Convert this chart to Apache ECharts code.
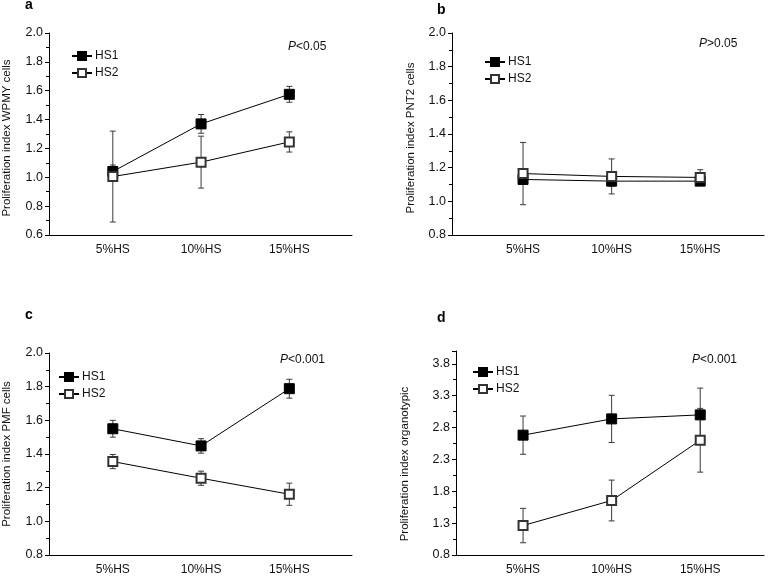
<!DOCTYPE html>
<html><head><meta charset="utf-8">
<script src="https://cdn.jsdelivr.net/npm/echarts@6/dist/echarts.min.js"></script>
<style>html,body{margin:0;padding:0;background:#fff}#c{width:769px;height:576px}</style>
</head><body><div id="c"></div>
<script>
const categories = ['5%HS', '10%HS', '15%HS'];
const seriesNames = ['HS1', 'HS2'];
// panel a: WPMY cells
const aHS1 = [1.04, 1.37, 1.575];
const aHS1sd = [0.045, 0.065, 0.055];
const aHS2 = [1.005, 1.105, 1.245];
const aHS2sd = [0.315, 0.18, 0.07];
// panel b: PNT2 cells
const bHS1 = [1.13, 1.12, 1.12];
const bHS1sd = [0.03, 0.03, 0.02];
const bHS2 = [1.165, 1.148, 1.142];
const bHS2sd = [0.185, 0.104, 0.046];
// panel c: PMF cells
const cHS1 = [1.55, 1.448, 1.788];
const cHS1sd = [0.05, 0.043, 0.056];
const cHS2 = [1.355, 1.256, 1.161];
const cHS2sd = [0.042, 0.042, 0.066];
// panel d: organotypic
const dHS1 = [2.68, 2.935, 2.998];
const dHS1sd = [0.3, 0.37, 0.42];
const dHS2 = [1.262, 1.655, 2.6];
const dHS2sd = [0.27, 0.32, 0.5];

const yNames = ['Proliferation index WPMY cells', 'Proliferation index PNT2 cells', 'Proliferation index PMF cells', 'Proliferation index organotypic'];
const pTexts = ['<0.05', '>0.05', '<0.001', '<0.001'];
const panelLetters = ['a', 'b', 'c', 'd'];
const yTicksA = [0.6, 2.0, 0.2];
const yTicksB = [0.8, 2.0, 0.2];
const yTicksC = [0.8, 2.0, 0.2];
const yTicksD = [0.8, 4.0, 0.5];

const panels = [
  {m1: aHS1, s1: aHS1sd, m2: aHS2, s2: aHS2sd, y: yTicksA},
  {m1: bHS1, s1: bHS1sd, m2: bHS2, s2: bHS2sd, y: yTicksB},
  {m1: cHS1, s1: cHS1sd, m2: cHS2, s2: cHS2sd, y: yTicksC},
  {m1: dHS1, s1: dHS1sd, m2: dHS2, s2: dHS2sd, y: yTicksD}
];

const layout = [
  {grid: {left: 48, top: 33, width: 304, height: 202}, xmin: 0.277, xmax: 3.71, nameGap: 36, namePad: [0, 8, 0, 0],
   legend: {left: 66, top: 45}, p: [288, 48], letter: [25, 5]},
  {grid: {left: 452, top: 33, width: 312, height: 202}, xmin: 0.198, xmax: 3.72, nameGap: 35, namePad: [0, 8, 0, 0],
   legend: {left: 479, top: 51}, p: [699, 45], letter: [437, 10]},
  {grid: {left: 48, top: 353, width: 304, height: 202}, xmin: 0.277, xmax: 3.71, nameGap: 36, namePad: [0, 0, 0, 0],
   legend: {left: 53, top: 366}, p: [280, 361], letter: [25, 315]},
  {grid: {left: 456, top: 351, width: 308, height: 204}, xmin: 0.243, xmax: 3.72, nameGap: 45, namePad: [0, 22, 0, 0],
   legend: {left: 467, top: 361}, p: [692, 361], letter: [437, 318]}
];

const font = 'Liberation Sans, Arial, sans-serif';
const grids = [], xAxes = [], yAxes = [], series = [], legends = [], graphics = [];

function errSeries(i, means, sds, z) {
  const data = means.map((m, k) => [k + 1, m - sds[k], m + sds[k]]);
  return {
    type: 'custom', xAxisIndex: i, yAxisIndex: i, z: z, silent: true,
    data: data,
    renderItem: function (params, api) {
      const x = api.value(0);
      const lo = api.coord([x, api.value(1)]);
      const hi = api.coord([x, api.value(2)]);
      const w = 3;
      const st = {stroke: '#3a3a3a', lineWidth: 1};
      return {type: 'group', children: [
        {type: 'line', shape: {x1: lo[0], y1: lo[1], x2: hi[0], y2: hi[1]}, style: st},
        {type: 'line', shape: {x1: lo[0] - w, y1: lo[1], x2: lo[0] + w, y2: lo[1]}, style: st},
        {type: 'line', shape: {x1: hi[0] - w, y1: hi[1], x2: hi[0] + w, y2: hi[1]}, style: st}
      ]};
    }
  };
}

panels.forEach((p, i) => {
  const L = layout[i];
  grids.push(L.grid);
  xAxes.push({
    type: 'value', gridIndex: i, min: L.xmin, max: L.xmax,
    axisLine: {show: true, lineStyle: {color: '#000', width: 1}},
    axisTick: {show: false}, splitLine: {show: false},
    axisLabel: {customValues: [1, 2, 3], formatter: v => categories[Math.round(v) - 1] || '',
      color: '#111', fontSize: 12, fontFamily: font, margin: 9}
  });
  yAxes.push({
    type: 'value', gridIndex: i, min: p.y[0], max: p.y[1], interval: p.y[2],
    name: yNames[i], nameLocation: 'middle', nameRotate: 90, nameGap: L.nameGap,
    nameTextStyle: {fontSize: 11.5, color: '#111', fontFamily: font, padding: L.namePad},
    axisLine: {show: true, lineStyle: {color: '#000', width: 1}},
    axisTick: {show: true, length: 4, lineStyle: {color: '#000'}},
    minorTick: {show: true, splitNumber: 2, length: 3, lineStyle: {color: '#000'}},
    splitLine: {show: false},
    axisLabel: {showMaxLabel: i === 3 ? false : true, formatter: v => v.toFixed(1),
      color: '#111', fontSize: 12.5, fontFamily: font, margin: 6}
  });
  series.push(errSeries(i, p.m1, p.s1, 2));
  series.push(errSeries(i, p.m2, p.s2, 2));
  series.push({
    type: 'line', name: seriesNames[0], xAxisIndex: i, yAxisIndex: i, z: 3,
    data: p.m1.map((v, k) => [k + 1, v]),
    symbol: 'rect', symbolSize: 10, showSymbol: true,
    lineStyle: {color: '#000', width: 1},
    itemStyle: {color: '#000', borderColor: '#000', borderWidth: 1}
  });
  series.push({
    type: 'line', name: seriesNames[1], xAxisIndex: i, yAxisIndex: i, z: 4,
    data: p.m2.map((v, k) => [k + 1, v]),
    symbol: 'rect', symbolSize: 9, showSymbol: true,
    lineStyle: {color: '#000', width: 1},
    itemStyle: {color: '#fff', borderColor: '#333', borderWidth: 2}
  });
  legends.push({
    orient: 'vertical', left: L.legend.left, top: L.legend.top,
    itemWidth: 20, itemHeight: 10, itemGap: 5, selectedMode: false,
    data: seriesNames,
    textStyle: {fontSize: 12, color: '#111', fontFamily: font, padding: [0, 0, 0, -2]}
  });
  graphics.push({
    type: 'text', left: L.p[0], top: L.p[1] - 7,
    style: {text: '{i|P}' + pTexts[i], font: '12px ' + font, fill: '#111',
      rich: {i: {fontStyle: 'italic', fontSize: 12, fontFamily: font, fill: '#111'}}}
  });
  graphics.push({
    type: 'text', left: L.letter[0], top: L.letter[1] - 7,
    style: {text: panelLetters[i], font: 'bold 14px ' + font, fill: '#000'}
  });
});

const chart = echarts.init(document.getElementById('c'), null, {renderer: 'canvas'});
chart.setOption({
  animation: false,
  backgroundColor: '#fff',
  grid: grids, xAxis: xAxes, yAxis: yAxes, series: series,
  legend: legends, graphic: graphics
});
</script></body></html>
